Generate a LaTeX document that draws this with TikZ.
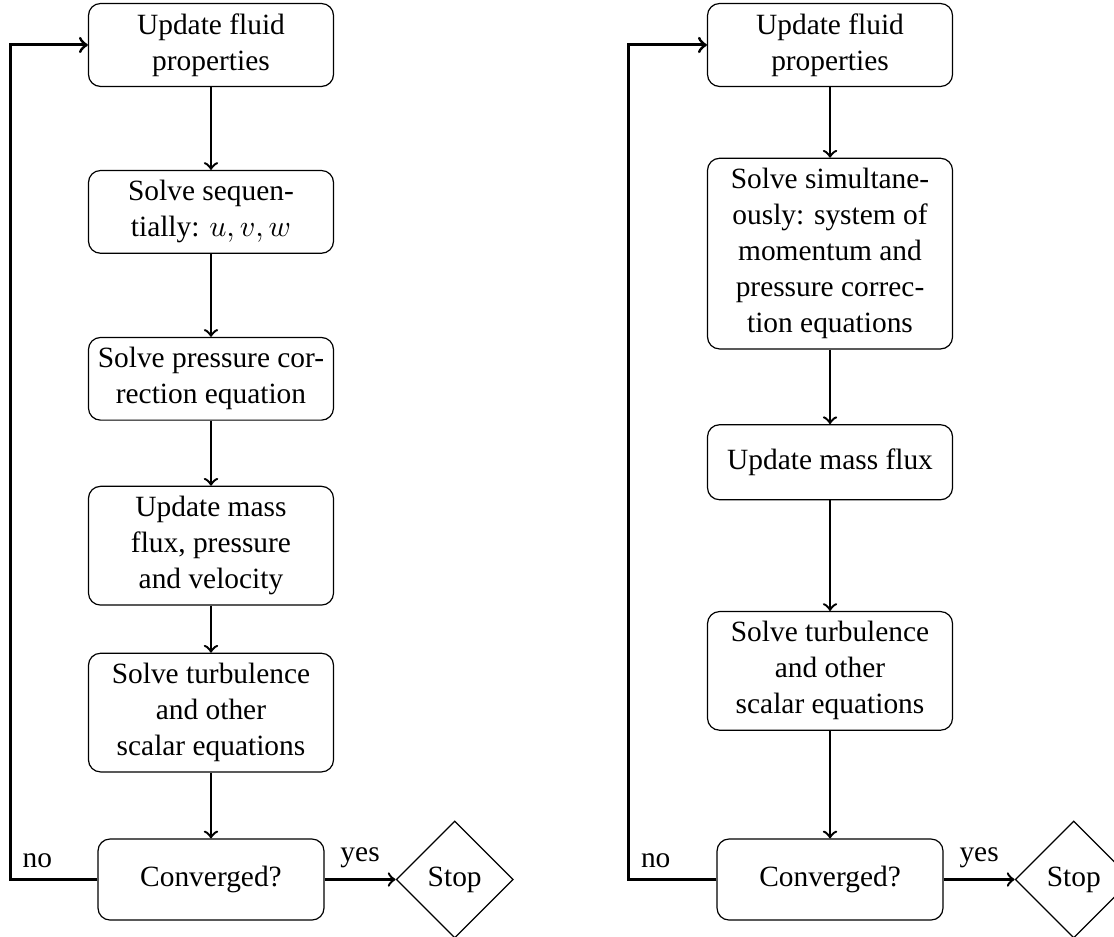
\documentclass[tikz,border=0pt]{standalone}
\usepackage{fontspec}
\setmainfont{Liberation Serif}
\usepackage{tikz}
\usetikzlibrary{positioning,shapes.geometric}

\begin{document}
\begin{tikzpicture}[font=\fontsize{9.8}{12}\selectfont,
 blk/.style={draw,rounded corners,align=center,minimum width=81.67pt,inner xsep=2.83pt,inner ysep=3.33pt,minimum height=25pt},
 chk/.style={draw,rounded corners,align=center,minimum width=75.33pt,minimum height=27pt},
 halt/.style={draw,diamond,minimum width=39pt,minimum height=39pt,inner sep=0pt},
 flow/.style={->,thick},
 back/.style={->,line width=1pt}]
 \useasboundingbox (0,0) rectangle (371.33pt,-312pt);
 % left: sequential
 \node[blk](upd1) at (70.33pt,-15pt){Update fluid\\properties};
 \node[blk](seq) at (70.33pt,-70.63pt){Solve sequen-\\tially: $u, v, w$};
 \node[blk](pc) at (70.33pt,-126.27pt){Solve pressure cor-\\rection equation};
 \node[blk](mf1) at (70.33pt,-181.9pt){Update mass\\flux, pressure\\and velocity};
 \node[blk](turb1) at (70.33pt,-237.53pt){Solve turbulence\\and other\\scalar equations};
 \node[chk](conv1) at (70.33pt,-293.17pt){Converged?};
 \node[halt,right=23.67pt of conv1](stop1){Stop};
 \draw[flow](upd1)--(seq);
 \draw[flow](seq)--(pc);
 \draw[flow](pc)--(mf1);
 \draw[flow](mf1)--(turb1);
 \draw[flow](turb1)--(conv1);
 \draw[flow](conv1)--(stop1) node[midway,above]{yes};
 \draw[back](conv1.west)-- ++(-29pt,0) node[pos=0.69,above]{no} |- (upd1.west);
 % right: simultaneous
 \node[blk](upd2) at (276.67pt,-15pt){Update fluid\\properties};
 \node[blk](sim) at (276.67pt,-84.54pt){Solve simultane-\\ously: system of\\momentum and\\pressure correc-\\tion equations};
 \node[blk](mf2) at (276.67pt,-154.08pt){Update mass flux};
 \node[blk](turb2) at (276.67pt,-223.63pt){Solve turbulence\\and other\\scalar equations};
 \node[chk](conv2) at (276.67pt,-293.17pt){Converged?};
 \node[halt,right=23.67pt of conv2](stop2){Stop};
 \draw[flow](upd2)--(sim);
 \draw[flow](sim)--(mf2);
 \draw[flow](mf2)--(turb2);
 \draw[flow](turb2)--(conv2);
 \draw[flow](conv2)--(stop2) node[midway,above]{yes};
 \draw[back](conv2.west)-- ++(-29.33pt,0) node[pos=0.69,above]{no} |- (upd2.west);
\end{tikzpicture}
\end{document}
